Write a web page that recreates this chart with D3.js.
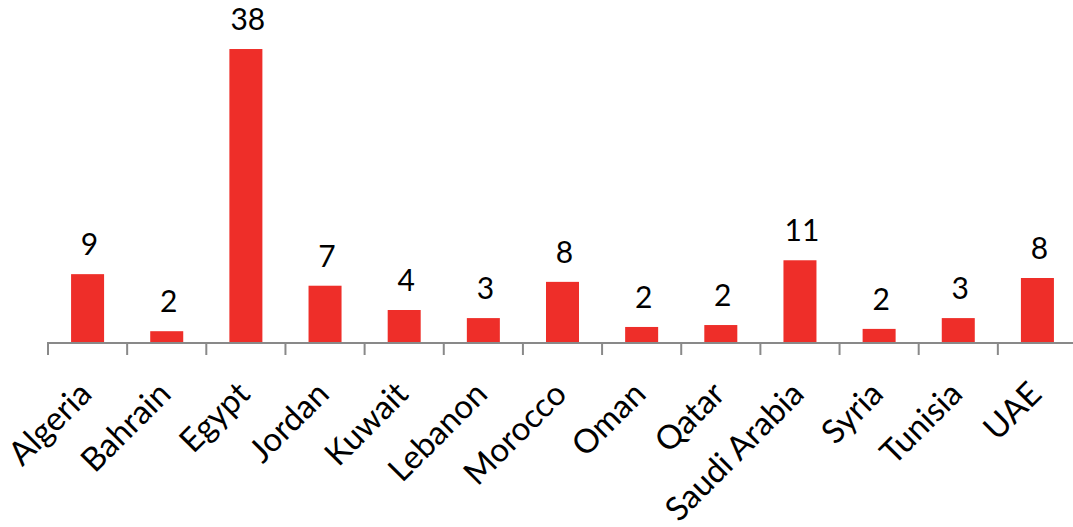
<!DOCTYPE html>
<html>
<head>
<meta charset="utf-8">
<script src="https://cdn.jsdelivr.net/npm/d3@7"></script>
<style>
  body { margin: 0; background: #fff; }
  svg { display: block; }
</style>
</head>
<body>
<script>
// countries, bar heights and the printed (rounded) labels
const countries = ["Algeria", "Bahrain", "Egypt", "Jordan", "Kuwait", "Lebanon", "Morocco",
  "Oman", "Qatar", "Saudi Arabia", "Syria", "Tunisia", "UAE"];
const values = [8.8, 1.4, 38, 7.3, 4.15, 3.1, 7.8, 1.95, 2.2, 10.6, 1.7, 3.1, 8.3];
const valueLabels = ["9", "2", "38", "7", "4", "3", "8", "2", "2", "11", "2", "3", "8"];

let width = 1073;
let height = 527;
let baseY = 342;

let svg = d3.select("body")
  .append("svg")
  .attr("width", width)
  .attr("height", height);

let xRange = d3.scaleBand()
  .domain(countries)
  .range([48, 1077])
  .paddingInner(0.583)
  .paddingOuter(0.2915);

let yRange = d3.scaleLinear()
  .domain([0, 40])
  .range([baseY, 33.6]);

// bars
svg.selectAll("rect.bar")
  .data(countries)
  .enter()
  .append("rect")
  .attr("class", "bar")
  .attr("x", d => xRange(d))
  .attr("y", (d, i) => yRange(values[i]))
  .attr("width", xRange.bandwidth())
  .attr("height", (d, i) => baseY - yRange(values[i]))
  .attr("fill", "#ee2e29");

// value labels
svg.selectAll("text.val")
  .data(countries)
  .enter()
  .append("text")
  .attr("class", "val")
  .attr("x", d => xRange(d) + xRange.bandwidth() / 2 + 2)
  .attr("y", (d, i) => yRange(values[i]) - 19)
  .attr("text-anchor", "middle")
  .style("font-family", "Lato, 'Open Sans', sans-serif")
  .style("font-size", "30px")
  .attr("fill", "#000")
  .text((d, i) => valueLabels[i]);

// category axis: ticks sit between categories
let step = xRange.step();
let bounds = d3.range(countries.length + 1).map(i => xRange.range()[0] + i * step);

let axis = svg.append("g").attr("class", "x-axis");
axis.append("line")
  .attr("x1", bounds[0] - 1)
  .attr("x2", bounds[bounds.length - 1])
  .attr("y1", baseY + 1)
  .attr("y2", baseY + 1)
  .attr("stroke", "#898989")
  .attr("stroke-width", 2);

axis.selectAll("line.tick")
  .data(bounds)
  .enter()
  .append("line")
  .attr("class", "tick")
  .attr("x1", d => d)
  .attr("x2", d => d)
  .attr("y1", baseY + 1)
  .attr("y2", baseY + 13)
  .attr("stroke", "#898989")
  .attr("stroke-width", 2);

axis.selectAll("text.cat")
  .data(countries)
  .enter()
  .append("text")
  .attr("class", "cat")
  .attr("transform", d => "translate(" + (xRange(d) + xRange.bandwidth() / 2 + 6) + "," + 396 + ") rotate(-45)")
  .attr("text-anchor", "end")
  .style("font-family", "Lato, 'Open Sans', sans-serif")
  .style("font-size", "33px")
  .attr("fill", "#000")
  .text(d => d);
</script>
</body>
</html>
